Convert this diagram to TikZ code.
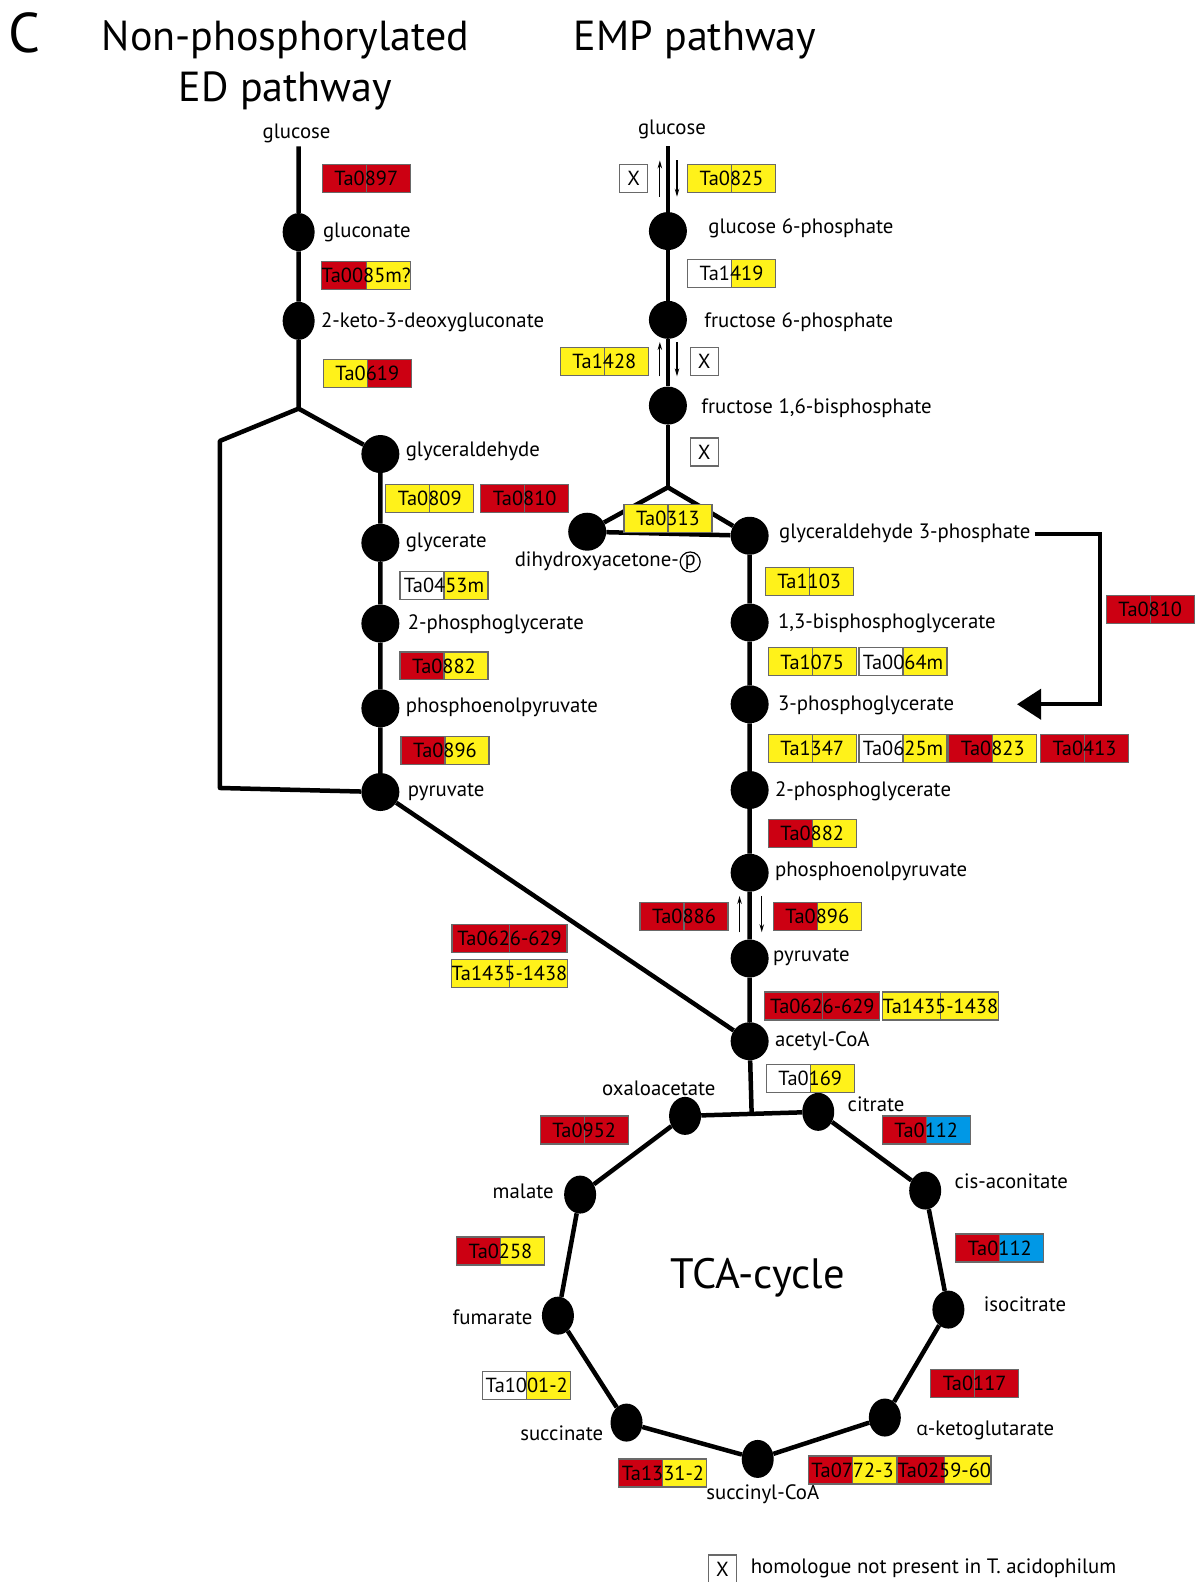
\documentclass[tikz,border=0pt]{standalone}
\usepackage{fontspec}
\setmainfont{PT Sans}
\newfontfamily\grkfont{Open Sans}
\usetikzlibrary{arrows.meta,shapes.geometric}
\definecolor{enzred}{RGB}{204,0,18}
\definecolor{enzyellow}{RGB}{255,242,26}
\definecolor{enzblue}{RGB}{0,152,230}
\definecolor{enzgray}{RGB}{105,105,105}
\newcommand\metfont{\fontsize{20.8}{24}\selectfont}
\newcommand\enzfont{\fontsize{20.4}{24}\selectfont}
\newcommand\titlefont{\fontsize{42}{48}\selectfont}
\begin{document}
\begin{tikzpicture}%
	[x={(1.0093pt,0pt)},
	y={(0pt,-1.0093pt)},
	route/.style={line width=4.5pt, line join=round},
	met/.style={circle, fill=black, inner sep=0pt, minimum size=38pt},
	metoval/.style={ellipse, fill=black, inner sep=0pt, minimum width=32pt, minimum height=38pt},
	metlabel/.style={font=\metfont, inner sep=0pt},
	enz/.style 2 args={draw=enzgray, line width=1.2pt, minimum width=88pt, minimum height=28pt,
		inner sep=0pt, font=\enzfont,
		path picture={
			\fill[#1] (path picture bounding box.south west) rectangle (path picture bounding box.north);
			\fill[#2] (path picture bounding box.north) rectangle (path picture bounding box.south east);
			\draw[enzgray, line width=1.2pt] (path picture bounding box.north) -- (path picture bounding box.south);}},
	wide/.style={minimum width=115pt},
	nohom/.style={draw=enzgray, line width=1.2pt, fill=white, minimum size=28pt, inner sep=0pt, font=\enzfont},
	rev/.style={-{Stealth[length=8pt,width=4.5pt]}, line width=1.1pt},
	shunt/.style={line width=4pt, -{Triangle[length=24pt,width=30pt]}}]
%
\useasboundingbox[fill=white] (0,0) rectangle (1184,1568);
%
%% Titles
%%
\node[font=\fontsize{56}{62}\selectfont, inner sep=0pt] (panel) at (24,33) {C};
\node[font=\titlefont, inner sep=0pt] (edtitle) at (283,40) {Non-phosphorylated};
\node[font=\titlefont, inner sep=0pt] (edtitleb) at (283,90) {ED pathway};
\node[font=\titlefont, inner sep=0pt] (emptitle) at (689,40) {EMP pathway};
%%
%%
%% Metabolites of the ED pathway
%%
\node[metlabel] (edglc) at (294,132) {glucose};
\coordinate (edtop) at (296,145);
\node[metoval] (edgln) at (296,230) {};
\node[metoval] (edkdg) at (296,318) {};
\coordinate (edsplit) at (296,405);
\coordinate (edcorner) at (218,437);
\coordinate (edbottom) at (218,781);
\node[met] (edgla) at (377,450) {};
\node[met] (edgly) at (377,538) {};
\node[met] (edpg2) at (377,618) {};
\node[met] (edpep) at (377,702) {};
\node[met] (edpyr) at (377,785) {};
%%
%%
%% Metabolites of the EMP pathway
%%
\node[metlabel] (empglc) at (666,128) {glucose};
\coordinate (emptop) at (662,145);
\node[met] (empg6p) at (662,229) {};
\node[met] (empf6p) at (662,317) {};
\node[met] (empfbp) at (662,402) {};
\coordinate (empsplit) at (662,483);
\node[met] (empdhap) at (582,527) {};
\node[met] (empgap) at (743,531) {};
\node[met] (empbpg) at (743,617) {};
\node[met] (emppg3) at (743,698) {};
\node[met] (emppg2) at (743,783) {};
\node[met] (emppep) at (743,865) {};
\node[met] (emppyr) at (743,950) {};
\node[met] (acoa) at (743,1032) {};
\coordinate (tcajoin) at (745,1104);
%%
%%
%% Metabolites of the TCA-cycle
%%
\node[metoval] (oaa) at (679,1106) {};
\node[metoval] (cit) at (811,1102) {};
\node[metoval] (cisa) at (917,1180) {};
\node[metoval] (icit) at (940,1298) {};
\node[metoval] (akg) at (877,1405) {};
\node[metoval] (sucoa) at (751,1446) {};
\node[metoval] (succ) at (621,1410) {};
\node[metoval] (fum) at (553,1304) {};
\node[metoval] (mal) at (575,1184) {};
%%
%%
%% Drawing the pathways
%%
\draw[route] (edtop) -- (edgln) -- (edkdg) -- (edsplit) -- (edgla);
\draw[route] (edsplit) -- (edcorner) -- (edbottom) -- (edpyr);
\draw[route] (edgla) -- (edgly) -- (edpg2) -- (edpep) -- (edpyr) -- (acoa);
\draw[route] (emptop) -- (empg6p) -- (empf6p) -- (empfbp) -- (empsplit);
\draw[route] (empdhap) -- (empsplit) -- (empgap);
\draw[route] (empdhap) -- (empgap);
\draw[route] (empgap) -- (empbpg) -- (emppg3) -- (emppg2) -- (emppep) -- (emppyr) -- (acoa) -- (tcajoin);
\draw[route] (oaa) -- (cit) -- (cisa) -- (icit) -- (akg) -- (sucoa) -- (succ) -- (fum) -- (mal) -- (oaa);
%%
%%
%% Reversible steps
%%
\draw[rev] (654,195) -- (654,159);
\draw[rev] (671,159) -- (671,195);
\draw[rev] (654,373) -- (654,339);
\draw[rev] (671,339) -- (671,373);
\draw[rev] (733,924) -- (733,888);
\draw[rev] (755,888) -- (755,924);
%%
%%
%% Metabolite names
%%
\node[metlabel, anchor=west] (lgln) at (320,230) {gluconate};
\node[metlabel, anchor=west] (lkdg) at (318,319) {2-keto-3-deoxygluconate};
\node[metlabel, anchor=west] (lgla) at (402,447) {glyceraldehyde};
\node[metlabel, anchor=west] (lgly) at (402,538) {glycerate};
\node[metlabel, anchor=west] (ledpg2) at (404,619) {2-phosphoglycerate};
\node[metlabel, anchor=west] (ledpep) at (402,701) {phosphoenolpyruvate};
\node[metlabel, anchor=west] (ledpyr) at (404,785) {pyruvate};
\node[metlabel, anchor=west] (lg6p) at (702,226) {glucose 6-phosphate};
\node[metlabel, anchor=west] (lf6p) at (698,319) {fructose 6-phosphate};
\node[metlabel, anchor=west] (lfbp) at (695,405) {fructose 1,6-bisphosphate};
\node[metlabel, anchor=west] (lgap) at (772,529) {glyceraldehyde 3-phosphate};
\node[metlabel, anchor=west] (ldhap) at (510,556) {dihydroxyacetone-};
\node[metlabel, circle, draw, line width=1.2pt, inner sep=0pt, minimum size=20pt, anchor=west,
	yshift=-1pt, font=\fontsize{20}{20}\selectfont] (lphos) at ([xshift=0.5pt]ldhap.east) {p};
\node[metlabel, anchor=west] (lbpg) at (771,618) {1,3-bisphosphoglycerate};
\node[metlabel, anchor=west] (lpg3) at (771,699) {3-phosphoglycerate};
\node[metlabel, anchor=west] (lpg2) at (768,784) {2-phosphoglycerate};
\node[metlabel, anchor=west] (lpep) at (768,864) {phosphoenolpyruvate};
\node[metlabel, anchor=west] (lpyr) at (766,949) {pyruvate};
\node[metlabel, anchor=west] (lacoa) at (768,1032) {acetyl-CoA};
\node[metlabel] (loaa) at (653,1079) {oxaloacetate};
\node[metlabel, anchor=west] (lcit) at (840,1094) {citrate};
\node[metlabel, anchor=west] (lcisa) at (946,1171) {cis-aconitate};
\node[metlabel, anchor=west] (licit) at (975,1293) {isocitrate};
\node[metlabel, anchor=west] (lakg) at (908,1418) {{\grkfont\fontsize{19}{24}\selectfont α}-ketoglutarate};
\node[metlabel] (lsucoa) at (756,1481) {succinyl-CoA};
\node[metlabel, anchor=east] (lsucc) at (598,1421) {succinate};
\node[metlabel, anchor=east] (lfum) at (528,1306) {fumarate};
\node[metlabel, anchor=east] (lmal) at (549,1181) {malate};
\node[font=\fontsize{42.5}{48}\selectfont, inner sep=0pt] (tcaname) at (751,1266) {TCA-cycle};
%%
%%
%% Glyceraldehyde 3-phosphate shunt
%%
\coordinate (shunttop) at (1090,530);
\coordinate (shunttip) at (1008,698);
\draw[shunt] ([xshift=4pt]lgap.east) -- (shunttop |- lgap.east) |- (shunttip);
%%
%%
%% Enzymes of the ED pathway
%%
\node[enz={enzred}{enzred}] (e0897) at (363,177) {Ta0897};
\node[enz={enzred}{enzyellow}] (e0085) at (363,273) {Ta0085m?};
\node[enz={enzyellow}{enzred}] (e0619) at (364,370) {Ta0619};
\node[enz={enzyellow}{enzyellow}] (e0809) at (426,494) {Ta0809};
\node[enz={enzred}{enzred}] (e0810a) at (520,494) {Ta0810};
\node[enz={white}{enzyellow}] (e0453) at (440,580) {Ta0453m};
\node[enz={enzred}{enzyellow}] (e0882a) at (440,660) {Ta0882};
\node[enz={enzred}{enzyellow}] (e0896a) at (441,744) {Ta0896};
\node[enz={enzred}{enzred}, wide] (e0626a) at (505,930) {Ta0626-629};
\node[enz={enzyellow}{enzyellow}, wide] (e1435a) at (505,965) {Ta1435-1438};
%%
%%
%% Enzymes of the EMP pathway
%%
\node[nohom] (x1) at (628,177) {X};
\node[enz={enzyellow}{enzyellow}] (e0825) at (725,177) {Ta0825};
\node[enz={white}{enzyellow}] (e1419) at (725,271) {Ta1419};
\node[enz={enzyellow}{enzyellow}] (e1428) at (599,358) {Ta1428};
\node[nohom] (x2) at (698,358) {X};
\node[nohom] (x3) at (698,448) {X};
\node[enz={enzyellow}{enzyellow}] (e0313) at (662,514) {Ta0313};
\node[enz={enzyellow}{enzyellow}] (e1103) at (802,576) {Ta1103};
\node[enz={enzred}{enzred}] (e0810b) at (1140,604) {Ta0810};
\node[enz={enzyellow}{enzyellow}] (e1075) at (805,656) {Ta1075};
\node[enz={white}{enzyellow}] (e0064) at (895,656) {Ta0064m};
\node[enz={enzyellow}{enzyellow}] (e1347) at (805,742) {Ta1347};
\node[enz={white}{enzyellow}] (e0625) at (895,742) {Ta0625m};
\node[enz={enzred}{enzyellow}] (e0823) at (984,742) {Ta0823};
\node[enz={enzred}{enzred}] (e0413) at (1075,742) {Ta0413};
\node[enz={enzred}{enzyellow}] (e0882b) at (805,826) {Ta0882};
\node[enz={enzred}{enzred}] (e0886) at (678,908) {Ta0886};
\node[enz={enzred}{enzyellow}] (e0896b) at (810,908) {Ta0896};
\node[enz={enzred}{enzred}, wide] (e0626b) at (815,997) {Ta0626-629};
\node[enz={enzyellow}{enzyellow}, wide] (e1435b) at (932,997) {Ta1435-1438};
%%
%%
%% Enzymes of the TCA-cycle
%%
\node[enz={white}{enzyellow}] (e0169) at (803,1069) {Ta0169};
\node[enz={enzred}{enzred}] (e0952) at (579,1120) {Ta0952};
\node[enz={enzred}{enzblue}] (e0112a) at (918,1120) {Ta0112};
\node[enz={enzred}{enzblue}] (e0112b) at (991,1237) {Ta0112};
\node[enz={enzred}{enzred}] (e0117) at (966,1371) {Ta0117};
\node[enz={enzred}{enzyellow}] (e0772) at (845,1457) {Ta0772-3};
\node[enz={enzred}{enzyellow}] (e0259) at (936,1457) {Ta0259-60};
\node[enz={enzred}{enzyellow}] (e1331) at (657,1460) {Ta1331-2};
\node[enz={white}{enzyellow}] (e1001) at (522,1373) {Ta1001-2};
\node[enz={enzred}{enzyellow}] (e0258) at (496,1240) {Ta0258};
%%
%%
%% Legend
%%
\node[nohom] (xkey) at (716,1555) {X};
\node[metlabel, anchor=west] (keytext) at (744,1554) {homologue not present in T. acidophilum};
%%
\end{tikzpicture}
\end{document}
